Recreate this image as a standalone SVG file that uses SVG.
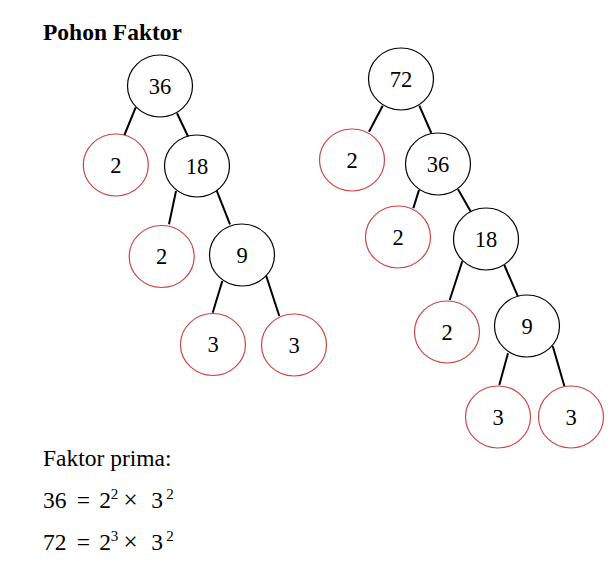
<svg xmlns="http://www.w3.org/2000/svg" width="616" height="580" viewBox="0 0 616 580">
<style>
.bg{fill:#fff}
.n ellipse{fill:#fff;stroke:#000;stroke-width:1.2}
.p ellipse{fill:#fff;stroke:#cc4444;stroke-width:1.2}
.n text,.p text{font-family:"Liberation Serif","Times New Roman",serif;font-size:22.5px;fill:#000;text-anchor:middle}
#connectors line{stroke:#000;stroke-width:2}
.t{font-family:"Liberation Serif","Times New Roman",serif;fill:#000}
.x{text-anchor:middle}
</style>
<rect class="bg" x="0" y="0" width="616" height="580"/>
<text class="t" x="43" y="40" font-size="23.5" font-weight="bold">Pohon Faktor</text>
<g id="connectors">
<line x1="135.7" y1="107.3" x2="124" y2="136"/>
<line x1="177" y1="113.3" x2="188.7" y2="137.7"/>
<line x1="176" y1="191" x2="169" y2="224.3"/>
<line x1="216.7" y1="190.7" x2="230" y2="224.3"/>
<line x1="222.3" y1="281" x2="212.7" y2="312.7"/>
<line x1="266" y1="275.3" x2="279.3" y2="316"/>
<line x1="382.7" y1="105.7" x2="369" y2="131.7"/>
<line x1="419.3" y1="105.7" x2="431.3" y2="133"/>
<line x1="419" y1="190" x2="413.3" y2="208.3"/>
<line x1="458" y1="189.3" x2="471" y2="212"/>
<line x1="462.3" y1="261.3" x2="449.7" y2="300"/>
<line x1="504.3" y1="265" x2="518" y2="296.7"/>
<line x1="508" y1="353.3" x2="499.3" y2="385"/>
<line x1="552.7" y1="346" x2="565" y2="388.3"/>
</g>
<g id="a36" class="n"><ellipse cx="160" cy="86" rx="32.5" ry="31"/><text x="160" y="93.5">36</text></g>
<g id="a2" class="p"><ellipse cx="115.8" cy="165" rx="32.5" ry="31"/><text x="115.8" y="172.5">2</text></g>
<g id="a18" class="n"><ellipse cx="197" cy="166" rx="32.5" ry="31"/><text x="197" y="173.5">18</text></g>
<g id="a2b" class="p"><ellipse cx="161.7" cy="256.5" rx="32.5" ry="31"/><text x="161.7" y="264">2</text></g>
<g id="a9" class="n"><ellipse cx="242" cy="255" rx="32.5" ry="31"/><text x="242" y="262.5">9</text></g>
<g id="a3" class="p"><ellipse cx="213" cy="344.5" rx="32.5" ry="31"/><text x="213" y="352">3</text></g>
<g id="a3b" class="p"><ellipse cx="294" cy="345" rx="32.5" ry="31"/><text x="294" y="352.5">3</text></g>
<g id="b72" class="n"><ellipse cx="401" cy="79" rx="32.5" ry="31"/><text x="401" y="86.5">72</text></g>
<g id="b2" class="p"><ellipse cx="352" cy="160" rx="32.5" ry="31"/><text x="352" y="167.5">2</text></g>
<g id="b36" class="n"><ellipse cx="438" cy="164" rx="32.5" ry="31"/><text x="438" y="171.5">36</text></g>
<g id="b2b" class="p"><ellipse cx="398" cy="237" rx="32.5" ry="31"/><text x="398" y="244.5">2</text></g>
<g id="b18" class="n"><ellipse cx="486" cy="239" rx="32.5" ry="31"/><text x="486" y="246.5">18</text></g>
<g id="b2c" class="p"><ellipse cx="447" cy="332" rx="32.5" ry="31"/><text x="447" y="339.5">2</text></g>
<g id="b9" class="n"><ellipse cx="527" cy="326" rx="32.5" ry="31"/><text x="527" y="333.5">9</text></g>
<g id="b3" class="p"><ellipse cx="498" cy="417" rx="32.5" ry="31"/><text x="498" y="424.5">3</text></g>
<g id="b3b" class="p"><ellipse cx="571" cy="417" rx="32.5" ry="31"/><text x="571" y="424.5">3</text></g>
<text class="t" x="43" y="466" font-size="23.5">Faktor prima:</text>
<g class="t" font-size="23.5">
<text x="43" y="508">36</text>
<text x="83.5" y="508" class="x">=</text>
<text x="105" y="508" class="x">2</text>
<text x="114.5" y="499" font-size="15" class="x">2</text>
<text x="130.5" y="508" font-size="25" class="x">×</text>
<text x="157" y="508" class="x">3</text>
<text x="170" y="499" font-size="15" class="x">2</text>
<text x="43" y="550">72</text>
<text x="83.5" y="550" class="x">=</text>
<text x="105" y="550" class="x">2</text>
<text x="114.5" y="541" font-size="15" class="x">3</text>
<text x="130.5" y="550" font-size="25" class="x">×</text>
<text x="157" y="550" class="x">3</text>
<text x="170" y="541" font-size="15" class="x">2</text>
</g>
</svg>
